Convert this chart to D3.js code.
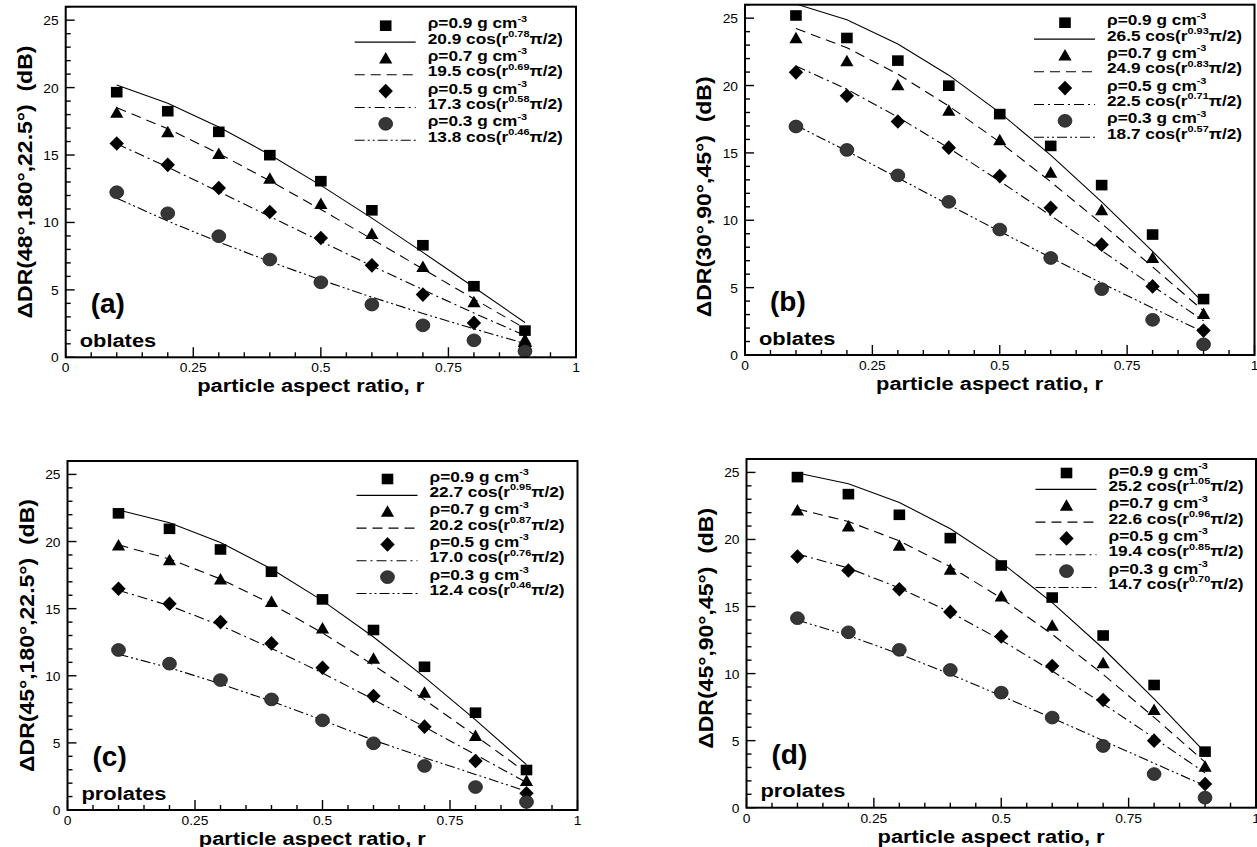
<!DOCTYPE html>
<html><head><meta charset="utf-8">
<script src="https://cdn.jsdelivr.net/npm/d3@7"></script>
<style>
html,body{margin:0;padding:0;background:#fff;}
svg{display:block;}
</style></head><body>
<svg id="chart" width="1257" height="847"></svg>
<script>
// ---------------- data ----------------
const xs = [0.1, 0.2, 0.3, 0.4, 0.5, 0.6, 0.7, 0.8, 0.9];
const densities = ["0.9", "0.7", "0.5", "0.3"];
const xTickVals = [0, 0.25, 0.5, 0.75, 1];
const xTickLabels = ["0", "0.25", "0.5", "0.75", "1"];
const yTickVals = [0, 5, 10, 15, 20, 25];
const yTickLabels = ["0", "5", "10", "15", "20", "25"];
const panelLabels = ["(a)", "(b)", "(c)", "(d)"];
const shapeLabels = ["oblates", "oblates", "prolates", "prolates"];
const yTitles = ["\u0394DR(48\u00b0,180\u00b0,22.5\u00b0)  (dB)", "\u0394DR(30\u00b0,90\u00b0,45\u00b0)  (dB)",
                 "\u0394DR(45\u00b0,180\u00b0,22.5\u00b0)  (dB)", "\u0394DR(45\u00b0,90\u00b0,45\u00b0)  (dB)"];
const xTitle = "particle aspect ratio, r";

// panel (a)
const aSq  = [19.66, 18.25, 16.72, 14.99, 13.06, 10.9, 8.31, 5.27, 1.98];
const aTri = [18.13, 16.69, 15.08, 13.25, 11.37, 9.15, 6.7, 4.08, 1.31];
const aDia = [15.85, 14.27, 12.56, 10.78, 8.85, 6.82, 4.65, 2.55, 0.82];
const aCir = [12.24, 10.68, 8.98, 7.25, 5.56, 3.91, 2.37, 1.26, 0.45];
const aFit1 = [20.19, 18.84, 17.08, 15.02, 12.75, 10.32, 7.78, 5.19, 2.58];
const aFit2 = [18.51, 16.95, 15.11, 13.09, 10.96, 8.77, 6.55, 4.33, 2.14];
const aFit3 = [15.84, 14.10, 12.28, 10.44, 8.60, 6.78, 5.01, 3.28, 1.61];
const aFit4 = [11.80, 10.10, 8.55, 7.10, 5.74, 4.46, 3.25, 2.11, 1.02];
const aAmps = ["20.9", "19.5", "17.3", "13.8"];
const aExps = ["0.78", "0.69", "0.58", "0.46"];

// panel (b)
const bSq  = [25.2, 23.53, 21.85, 19.99, 17.88, 15.52, 12.61, 8.94, 4.15];
const bTri = [23.51, 21.8, 20.03, 18.12, 15.94, 13.53, 10.75, 7.2, 3.05];
const bDia = [20.98, 19.24, 17.33, 15.39, 13.28, 10.92, 8.19, 5.09, 1.81];
const bCir = [16.96, 15.22, 13.33, 11.37, 9.31, 7.2, 4.89, 2.61, 0.79];
const bFit1 = [26.05, 24.88, 23.09, 20.77, 17.99, 14.83, 11.37, 7.69, 3.87];
const bFit2 = [24.23, 22.81, 20.85, 18.48, 15.80, 12.86, 9.75, 6.54, 3.27];
const bFit3 = [21.45, 19.73, 17.66, 15.36, 12.90, 10.35, 7.75, 5.13, 2.54];
const bFit4 = [17.05, 15.14, 13.15, 11.15, 9.17, 7.23, 5.33, 3.49, 1.71];
const bAmps = ["26.5", "24.9", "22.5", "18.7"];
const bExps = ["0.93", "0.83", "0.71", "0.57"];

// panel (c)
const cSq  = [22.1, 20.95, 19.41, 17.75, 15.69, 13.41, 10.67, 7.25, 2.98];
const cTri = [19.71, 18.6, 17.18, 15.49, 13.53, 11.27, 8.74, 5.51, 2.16];
const cDia = [16.48, 15.37, 14.0, 12.41, 10.6, 8.49, 6.21, 3.65, 1.24];
const cCir = [11.92, 10.9, 9.68, 8.24, 6.68, 4.97, 3.28, 1.71, 0.6];
const cFit1 = [22.35, 21.40, 19.92, 17.96, 15.60, 12.89, 9.90, 6.71, 3.38];
const cFit2 = [19.75, 18.70, 17.21, 15.35, 13.19, 10.79, 8.22, 5.53, 2.77];
const cFit3 = [16.37, 15.22, 13.75, 12.04, 10.20, 8.23, 6.19, 4.12, 2.05];
const cFit4 = [11.6, 10.6, 9.4, 8.1, 6.7, 5.2, 3.9, 2.65, 1.4];
const cAmps = ["22.7", "20.2", "17.0", "12.4"];
const cExps = ["0.95", "0.87", "0.76", "0.46"];

// panel (d)
const dSq  = [24.65, 23.38, 21.84, 20.1, 18.06, 15.67, 12.84, 9.15, 4.18];
const dTri = [22.16, 20.97, 19.53, 17.74, 15.75, 13.56, 10.77, 7.29, 3.06];
const dDia = [18.73, 17.69, 16.29, 14.6, 12.76, 10.57, 8.03, 5.0, 1.77];
const dCir = [14.13, 13.08, 11.77, 10.27, 8.58, 6.72, 4.6, 2.51, 0.75];
const dFit1 = [24.95, 24.15, 22.76, 20.80, 18.29, 15.29, 11.87, 8.12, 4.13];
const dFit2 = [22.27, 21.34, 19.89, 17.97, 15.62, 12.93, 9.94, 6.74, 3.40];
const dFit3 = [18.92, 17.87, 16.39, 14.57, 12.49, 10.19, 7.75, 5.20, 2.60];
const dFit4 = [13.98, 12.84, 11.46, 9.95, 8.35, 6.69, 5.00, 3.31, 1.64];
const dAmps = ["25.2", "22.6", "19.4", "14.7"];
const dExps = ["1.05", "0.96", "0.85", "0.70"];

// ---------------- layout ----------------
const FONT = "'Liberation Sans', Arial, Helvetica, sans-serif";
const SX = 1.15; // horizontal stretch of the scanned lettering
const layout = [
  {L: 65.7, R: 576, T: 6.7, B: 357.3, legTop: 19, titleDy: 0},
  {L: 745, R: 1254.5, T: 4.7, B: 355, legTop: 18, titleDy: 17},
  {L: 67.5, R: 577.5, T: 461, B: 810, legTop: 18, titleDy: 0},
  {L: 746.5, R: 1256, T: 459, B: 807.7, legTop: 14, titleDy: -5}
];
const panelData = [
  {pts: [aSq, aTri, aDia, aCir], fits: [aFit1, aFit2, aFit3, aFit4], amps: aAmps, exps: aExps},
  {pts: [bSq, bTri, bDia, bCir], fits: [bFit1, bFit2, bFit3, bFit4], amps: bAmps, exps: bExps},
  {pts: [cSq, cTri, cDia, cCir], fits: [cFit1, cFit2, cFit3, cFit4], amps: cAmps, exps: cExps},
  {pts: [dSq, dTri, dDia, dCir], fits: [dFit1, dFit2, dFit3, dFit4], amps: dAmps, exps: dExps}
];
const dashes = [null, "10,6", "10,4,2,4", "10,3,2,3,2,3"];

const svg = d3.select("#chart");

function drawMarker(g, kind, cx, cy) {
  if (kind === 0) {
    g.append("rect").attr("x", cx - 5.8).attr("y", cy - 5.3).attr("width", 11.6).attr("height", 10.6).attr("fill", "#000");
  } else if (kind === 1) {
    g.append("path").attr("d", `M${cx},${cy - 6.5}L${cx + 6.6},${cy + 5}L${cx - 6.6},${cy + 5}Z`).attr("fill", "#000");
  } else if (kind === 2) {
    g.append("path").attr("d", `M${cx},${cy - 7.3}L${cx + 7.2},${cy}L${cx},${cy + 7.3}L${cx - 7.2},${cy}Z`).attr("fill", "#000");
  } else {
    g.append("ellipse").attr("cx", cx).attr("cy", cy).attr("rx", 6.9).attr("ry", 6.4)
      .attr("fill", "#363636").attr("stroke", "#1a1a1a").attr("stroke-width", 0.8);
  }
}

function stext(g, x, y, size, weight, anchor) {
  return g.append("text")
    .attr("transform", `translate(${x},${y}) scale(${SX},1)`)
    .attr("font-family", FONT).attr("font-size", size).attr("font-weight", weight)
    .attr("text-anchor", anchor).attr("fill", "#000");
}

layout.forEach((lay, pi) => {
  const pd = panelData[pi];
  const g = svg.append("g");
  const x = d3.scaleLinear().domain([0, 1]).range([lay.L, lay.R]);
  const y = d3.scaleLinear().domain([0, 26]).range([lay.B, lay.T]);

  const clipId = "clip" + pi;
  svg.append("clipPath").attr("id", clipId).append("rect")
    .attr("x", lay.L).attr("y", lay.T).attr("width", lay.R - lay.L).attr("height", lay.B - lay.T);

  // ticks (inward)
  d3.range(0, 26.01, 1).forEach(v => {
    const major = v % 5 === 0;
    g.append("line").attr("x1", lay.L).attr("x2", lay.L + (major ? 9 : 5))
      .attr("y1", y(v)).attr("y2", y(v)).attr("stroke", "#000").attr("stroke-width", 1.4);
  });
  d3.range(0, 20.01, 1).forEach(i => {
    const v = i * 0.05;
    const major = i % 5 === 0;
    g.append("line").attr("x1", x(v)).attr("x2", x(v))
      .attr("y1", lay.B).attr("y2", lay.B - (major ? 10 : 5)).attr("stroke", "#000").attr("stroke-width", 1.4);
  });

  // tick labels
  yTickVals.forEach((v, i) => {
    stext(g, lay.L - 7, y(v) + 5, 12, "normal", "end").text(yTickLabels[i]);
  });
  xTickVals.forEach((v, i) => {
    stext(g, x(v), lay.B + 15, 12, "normal", "middle").text(xTickLabels[i]);
  });

  // fit lines
  const line = d3.line().x(d => x(d[0])).y(d => y(d[1]));
  pd.fits.forEach((f, k) => {
    g.append("path").datum(xs.map((xv, j) => [xv, f[j]]))
      .attr("d", line).attr("fill", "none").attr("stroke", "#000").attr("stroke-width", 1.1)
      .attr("stroke-dasharray", dashes[k]).attr("clip-path", `url(#${clipId})`);
  });

  // markers
  pd.pts.forEach((s, k) => {
    s.forEach((v, j) => drawMarker(g, k, x(xs[j]), y(v)));
  });

  // frame
  g.append("rect").attr("x", lay.L).attr("y", lay.T).attr("width", lay.R - lay.L).attr("height", lay.B - lay.T)
    .attr("fill", "none").attr("stroke", "#000").attr("stroke-width", 2);

  // legend
  const lx = lay.L;
  for (let k = 0; k < 4; k++) {
    const my = lay.T + lay.legTop + k * 32.7;
    drawMarker(g, k, lx + 320, my);
    g.append("line").attr("x1", lx + 289).attr("x2", lx + 350).attr("y1", my + 16.4).attr("y2", my + 16.4)
      .attr("stroke", "#000").attr("stroke-width", 1.1).attr("stroke-dasharray", dashes[k]);
    const t1 = stext(g, lx + 362, my + 2.5, 15, "bold", "start");
    t1.append("tspan").text("\u03c1=" + densities[k] + " g cm");
    t1.append("tspan").attr("dy", -6.5).attr("font-size", 9.5).text("-3");
    const t2 = stext(g, lx + 362, my + 17.8, 15, "bold", "start");
    t2.append("tspan").text(pd.amps[k] + " cos(r");
    t2.append("tspan").attr("dy", -6.5).attr("font-size", 9.5).text(pd.exps[k]);
    t2.append("tspan").attr("dy", 6.5).text("\u03c0/2)");
  }

  // panel label and shape label
  g.append("text").attr("x", lay.L + 25).attr("y", lay.B - 44)
    .attr("font-family", FONT).attr("font-size", 28).attr("font-weight", "bold").text(panelLabels[pi]);
  stext(g, lay.L + 14, lay.B - 10.5, 19, "bold", "start").text(shapeLabels[pi]);

  // axis titles
  stext(g, lay.L + 0.48 * (lay.R - lay.L), lay.B + 35, 19, "bold", "middle").text(xTitle);
  g.append("text")
    .attr("transform", `translate(${lay.L - 34},${(lay.T + lay.B) / 2 + lay.titleDy}) rotate(-90) scale(${SX},1)`)
    .attr("font-family", FONT).attr("font-size", 20).attr("font-weight", "bold")
    .attr("text-anchor", "middle").style("white-space", "pre").text(yTitles[pi]);
});
</script>
</body></html>
